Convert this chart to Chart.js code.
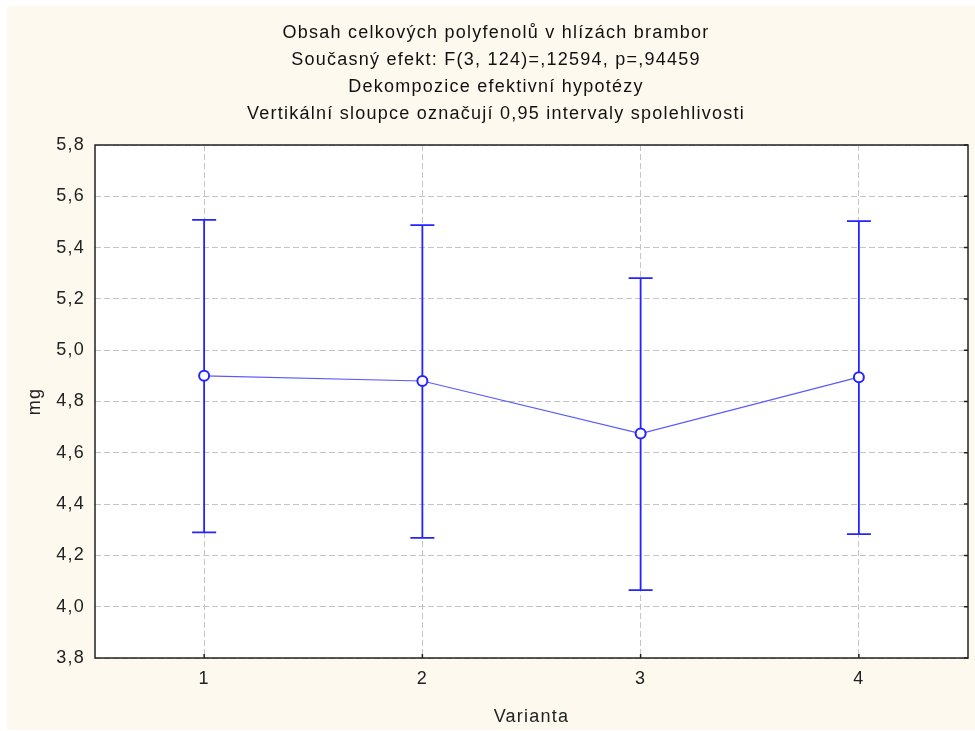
<!DOCTYPE html>
<html>
<head>
<meta charset="utf-8">
<script src="https://cdn.jsdelivr.net/npm/chart.js@4/dist/chart.umd.min.js"></script>
<style>
  body { margin: 0; background: #fff; }
  #wrap { position: absolute; left: 7px; top: 6px; width: 968px; height: 724px; background: #fdf9ef; }
</style>
</head>
<body>
<div id="wrap"><canvas id="chart" width="968" height="724"></canvas></div>
<script>
// Data
const categories = [1, 2, 3, 4];
const means = [4.90, 4.88, 4.675, 4.895];
const lower = [4.29, 4.268, 4.065, 4.283];
const upper = [5.508, 5.488, 5.281, 5.503];
const yTicks = [3.8, 4.0, 4.2, 4.4, 4.6, 4.8, 5.0, 5.2, 5.4, 5.6, 5.8];

const titleLines = [
  "Obsah celkových polyfenolů v hlízách brambor",
  "Současný efekt: F(3, 124)=,12594, p=,94459",
  "Dekompozice efektivní hypotézy",
  "Vertikální sloupce označují 0,95 intervaly spolehlivosti"
];

const blue = "#2424ff";
const font = "Liberation Sans";

// the original text is a bit wider than plain Arial, add some spacing
const spacing = {
  id: "spacing",
  beforeLayout(chart) { chart.ctx.letterSpacing = "1.25px"; },
  beforeDraw(chart) { chart.ctx.letterSpacing = "1.25px"; }
};

// white plot area + black frame + small inner ticks
const frame = {
  id: "frame",
  beforeDraw(chart) {
    const { ctx, chartArea: a } = chart;
    ctx.save();
    ctx.fillStyle = "#fff";
    ctx.fillRect(a.left, a.top, a.right - a.left, a.bottom - a.top);
    ctx.restore();
  },
  afterDraw(chart) {
    const { ctx, chartArea: a, scales } = chart;
    ctx.save();
    ctx.strokeStyle = "#222";
    ctx.lineWidth = 1.5;
    ctx.strokeRect(a.left, a.top, a.right - a.left, a.bottom - a.top);
    ctx.beginPath();
    categories.forEach(c => {
      const x = scales.x.getPixelForValue(c);
      ctx.moveTo(x, a.bottom);
      ctx.lineTo(x, a.bottom - 4);
    });
    yTicks.forEach(v => {
      const y = scales.y.getPixelForValue(v);
      ctx.moveTo(a.right, y);
      ctx.lineTo(a.right - 4, y);
    });
    ctx.stroke();
    ctx.restore();
  }
};

// confidence interval whiskers
const errorBars = {
  id: "errorBars",
  beforeDatasetsDraw(chart) {
    const { ctx, scales } = chart;
    ctx.save();
    ctx.strokeStyle = blue;
    ctx.lineWidth = 1.8;
    categories.forEach((c, i) => {
      const x = scales.x.getPixelForValue(c);
      const yl = scales.y.getPixelForValue(lower[i]);
      const yu = scales.y.getPixelForValue(upper[i]);
      ctx.beginPath();
      ctx.moveTo(x, yl); ctx.lineTo(x, yu);
      ctx.moveTo(x - 12, yu); ctx.lineTo(x + 12, yu);
      ctx.moveTo(x - 12, yl); ctx.lineTo(x + 12, yl);
      ctx.stroke();
    });
    ctx.restore();
  }
};

const fmt = v => v.toFixed(1).replace(".", ",");

new Chart(document.getElementById("chart"), {
  type: "line",
  data: {
    datasets: [{
      data: categories.map((c, i) => ({ x: c, y: means[i] })),
      borderColor: "#5a5aff",
      borderWidth: 1.2,
      pointRadius: 5,
      pointBackgroundColor: "#fff",
      pointBorderColor: blue,
      pointBorderWidth: 2,
      tension: 0
    }]
  },
  options: {
    responsive: false,
    animation: false,
    layout: { padding: { left: 17, right: 7, top: 0, bottom: 0 } },
    plugins: {
      legend: { display: false },
      tooltip: { enabled: false },
      title: {
        display: true,
        text: titleLines,
        color: "#111",
        font: { family: font, size: 18, weight: "normal", lineHeight: 27 / 18 },
        padding: { top: 14, bottom: 17 }
      }
    },
    scales: {
      x: {
        type: "linear",
        min: 0.5,
        max: 4.5,
        afterBuildTicks: s => { s.ticks = categories.map(v => ({ value: v })); },
        afterFit: s => { s.height = 72; },
        ticks: { color: "#222", font: { family: font, size: 18 }, padding: 10, callback: v => String(v) },
        grid: { color: "#c4c4c4", lineWidth: 1, drawTicks: false },
        border: { display: false, dash: [6, 3] },
        title: { display: true, text: "Varianta", color: "#222", font: { family: font, size: 18 }, padding: { top: 0, bottom: 2.2 } }
      },
      y: {
        min: 3.8,
        max: 5.8,
        afterBuildTicks: s => { s.ticks = yTicks.map(v => ({ value: v })); },
        afterFit: s => { s.width = 71; },
        ticks: { color: "#222", font: { family: font, size: 18 }, padding: 10, callback: v => fmt(v) },
        grid: { color: "#c4c4c4", lineWidth: 1, drawTicks: false },
        border: { display: false, dash: [6, 3] },
        title: { display: true, text: "mg", color: "#222", font: { family: font, size: 18 }, padding: { top: 0.2, bottom: 0 } }
      }
    }
  },
  plugins: [spacing, frame, errorBars]
});
</script>
</body>
</html>
